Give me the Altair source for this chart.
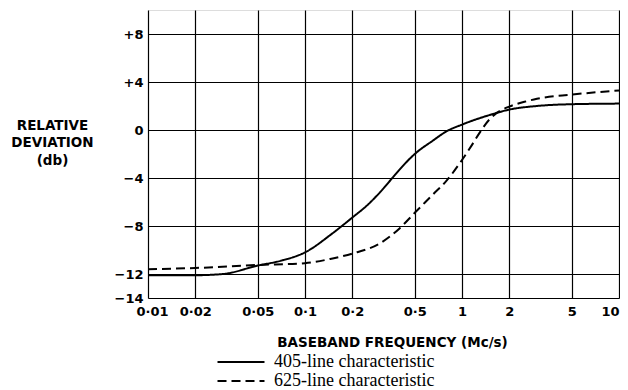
import altair as alt
import pandas as pd

# ---- data ----
freq_405 = [0.01, 0.02, 0.03, 0.05, 0.07, 0.1, 0.15, 0.2, 0.25, 0.3, 0.36, 0.4, 0.5, 0.65, 0.8, 1.0, 1.5, 2, 3, 5, 10]
dev_405 = [-12.1, -12.1, -12.0, -11.3, -10.9, -10.2, -8.6, -7.3, -6.25, -5.2, -4.0, -3.3, -2.0, -0.9, -0.1, 0.45, 1.25, 1.7, 2.0, 2.15, 2.2]

freq_625 = [0.01, 0.02, 0.05, 0.1, 0.15, 0.2, 0.3, 0.4, 0.5, 0.65, 0.8, 1.0, 1.15, 1.3, 1.5, 1.75, 2, 2.5, 3, 5, 10]
dev_625 = [-11.6, -11.5, -11.25, -11.1, -10.7, -10.3, -9.45, -8.2, -6.9, -5.4, -4.2, -2.5, -1.3, -0.2, 0.9, 1.6, 1.95, 2.35, 2.6, 2.95, 3.3]

series_names = ["405-line characteristic", "625-line characteristic"]

x_ticks = [0.01, 0.02, 0.05, 0.1, 0.2, 0.5, 1, 2, 5, 10]
x_tick_labels = ["0·01", "0·02", "0·05", "0·1", "0·2", "0·5", "1", "2", "5", "10"]
y_ticks = [8, 4, 0, -4, -8, -12, -14]
y_tick_labels = ["+8", "+4", "0", "\u22124", "\u22128", "\u221212", "\u221214"]

x_title = "BASEBAND FREQUENCY (Mc/s)"
y_title = ["RELATIVE", "DEVIATION", "(db)"]

rows = [{"f": f, "d": d, "s": series_names[0]} for f, d in zip(freq_405, dev_405)]
rows += [{"f": f, "d": d, "s": series_names[1]} for f, d in zip(freq_625, dev_625)]
df = pd.DataFrame(rows)


def label_expr(values, labels):
    expr = "''"
    for v, l in reversed(list(zip(values, labels))):
        expr = f"abs(datum.value - ({v})) < 1e-9 ? '{l}' : ({expr})"
    return expr


sans = "DejaVu Sans"

chart = alt.Chart(df).mark_line(interpolate="monotone", color="black", strokeWidth=2).encode(
    x=alt.X(
        "f:Q",
        scale=alt.Scale(type="log", domain=[0.01, 10], nice=False),
        axis=alt.Axis(
            values=x_ticks,
            labelExpr=label_expr(x_ticks, x_tick_labels),
            grid=True,
            gridColor="black",
            gridWidth=1.2,
            gridOpacity=1,
            domain=False,
            ticks=False,
            labelFont=sans,
            labelFontSize=13,
            labelFontWeight="bold",
            labelColor="black",
            labelPadding=7,
            labelFlush=False,
            labelAlign={"condition": {"test": "datum.value >= 9.99", "value": "right"}, "value": "center"},
            labelOffset={"condition": {"test": "datum.value <= 0.0101", "value": 4}, "value": 0},
            title=x_title,
            titleFont=sans,
            titleFontSize=13.5,
            titleFontWeight="bold",
            titleColor="black",
            titleBaseline="middle",
            titleX=244,
            titleY=44,
        ),
    ),
    y=alt.Y(
        "d:Q",
        scale=alt.Scale(domain=[-14, 10], nice=False, zero=False),
        axis=alt.Axis(
            values=y_ticks,
            labelExpr=label_expr(y_ticks, y_tick_labels),
            grid=True,
            gridColor="black",
            gridWidth=1.2,
            gridOpacity=1,
            domain=False,
            ticks=False,
            labelFont=sans,
            labelFontSize=13,
            labelFontWeight="bold",
            labelColor="black",
            labelPadding=5,
            title=y_title,
            titleAngle=0,
            titleAlign="center",
            titleBaseline="top",
            titleFont=sans,
            titleFontSize=13.5,
            titleFontWeight="bold",
            titleColor="black",
            titleLineHeight=17.5,
            titleX=-96,
            titleY=108,
        ),
    ),
    strokeDash=alt.StrokeDash(
        "s:N",
        scale=alt.Scale(domain=series_names, range=[[1, 0], [9, 5]]),
        legend=alt.Legend(
            title=None,
            orient="none",
            legendX=84,
            legendY=343,
            direction="vertical",
            symbolType="M-4,0H4",
            symbolSize=138,
            symbolStrokeWidth=1.8,
            symbolStrokeColor="black",
            labelFont="Liberation Serif",
            labelFontSize=18,
            labelColor="black",
            labelOffset=24,
            labelLimit=400,
            rowPadding=1,
        ),
    ),
).properties(
    width=471,
    height=288,
    autosize=alt.AutoSizeParams(type="none"),
    padding={"left": 140, "top": 2, "right": 1, "bottom": 92},
).configure_view(
    stroke="black", strokeWidth=1.4
).configure(
    background="white"
)

chart.save("out.html", embed_options={"renderer": "svg", "actions": False})
